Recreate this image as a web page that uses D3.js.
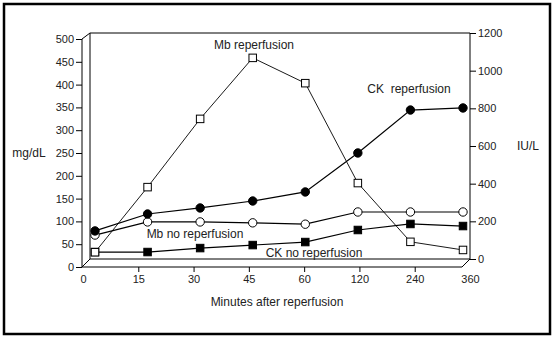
<!DOCTYPE html>
<html>
<head>
<meta charset="utf-8">
<script src="https://cdn.jsdelivr.net/npm/d3@7"></script>
<style>
  html, body { margin: 0; padding: 0; background: #fff; }
  text { font-family: "Liberation Sans", Arial, sans-serif; fill: #222; }
  .tick text { font-size: 11px; }
  .lbl { font-size: 12px; }
</style>
</head>
<body>
<div id="chart"></div>
<script>
// Mb (mg/dL, left axis) and CK (IU/L, right axis) after reperfusion
const minutes = ['0', '15', '30', '45', '60', '120', '240', '360'];
const mbReperfusion = [15, 159, 310, 445, 389, 168, 38, 20];
const mbNoReperfusion = [53, 82, 82, 80, 77, 104, 104, 104];
const ckReperfusion = [149, 239, 271, 308, 356, 563, 791, 802];
const ckNoReperfusion = [37, 37, 58, 74, 90, 154, 186, 175];
const mgTicks = [0, 50, 100, 150, 200, 250, 300, 350, 400, 450, 500];
const iuTicks = [0, 200, 400, 600, 800, 1000, 1200];

const width = 554, height = 344;

// front plane / back plane of the fake 3D frame
const front = { left: 82, right: 462, top: 39, bottom: 267 };
const back = { left: 90, right: 470, top: 33, bottom: 259 };

const svg = d3.select('#chart').append('svg')
  .attr('width', width)
  .attr('height', height)
  .style('display', 'block');

svg.append('rect')
  .attr('x', 4).attr('y', 4)
  .attr('width', 546).attr('height', 330)
  .attr('fill', 'none')
  .attr('stroke', '#000')
  .attr('stroke-width', 2.5);

const yFront = d3.scaleLinear().domain([0, 500]).range([front.bottom, front.top]);
const yMb = d3.scaleLinear().domain([0, 500]).range([back.bottom, back.top]);
const yCk = d3.scaleLinear().domain([0, 1200]).range([back.bottom, back.top]);
const xTick = d3.scalePoint().domain(minutes).range([83, 470]);
const xPt = d3.scalePoint().domain(minutes).range([95, 463]);

// frame
const frame = svg.append('g').attr('fill', 'none').attr('stroke', '#000').attr('stroke-width', 1);
frame.append('path').attr('d',
  `M${back.left},${back.bottom}V${back.top}H${back.right}V${back.bottom}H${back.left}`);
frame.append('path').attr('d',
  `M${front.left},${front.top}L${back.left},${back.top}` +
  `M${front.left},${front.bottom}L${back.left},${back.bottom}` +
  `M${front.left},${front.bottom}H${front.right}L${back.right},${back.bottom}`);

// left axis
const gl = svg.append('g')
  .attr('transform', `translate(${front.left},0)`)
  .call(d3.axisLeft(yFront).tickValues(mgTicks).tickSize(6).tickPadding(2));
gl.select('.domain').attr('d', `M0,${front.top}V${front.bottom}`);

// right axis
const gr = svg.append('g')
  .attr('transform', `translate(${back.right},0)`)
  .call(d3.axisRight(yCk).tickValues(iuTicks).tickFormat(d3.format('d')).tickSize(6).tickPadding(2));
gr.select('.domain').remove();

// bottom axis
const gb = svg.append('g')
  .attr('transform', `translate(0,${front.bottom})`)
  .call(d3.axisBottom(xTick).tickSize(5).tickPadding(3));
gb.select('.domain').remove();
gb.selectAll('.tick line').filter(d => d === '0' || d === '360').remove();

svg.selectAll('.tick text').attr('fill', '#222');

// series
const series = [
  { name: 'mbNo', values: mbNoReperfusion, y: yMb, shape: 'circle', fill: '#fff', lw: 1.2 },
  { name: 'ckNo', values: ckNoReperfusion, y: yCk, shape: 'square', fill: '#000', lw: 1.2 },
  { name: 'ckRep', values: ckReperfusion, y: yCk, shape: 'circle', fill: '#000', lw: 1.2 },
  { name: 'mbRep', values: mbReperfusion, y: yMb, shape: 'square', fill: '#fff', lw: 0.9 }
];

series.forEach(s => {
  const pts = s.values.map((v, i) => [xPt(minutes[i]), s.y(v)]);
  svg.append('path')
    .attr('d', d3.line()(pts))
    .attr('fill', 'none')
    .attr('stroke', '#000')
    .attr('stroke-width', s.lw);

  const g = svg.append('g');
  if (s.shape === 'circle') {
    g.selectAll('circle').data(pts).enter().append('circle')
      .attr('cx', d => d[0]).attr('cy', d => d[1]).attr('r', 4.2)
      .attr('fill', s.fill).attr('stroke', '#000').attr('stroke-width', 1);
  } else {
    g.selectAll('rect').data(pts).enter().append('rect')
      .attr('x', d => d[0] - 3.75).attr('y', d => d[1] - 3.75)
      .attr('width', 7.5).attr('height', 7.5)
      .attr('fill', s.fill).attr('stroke', '#000').attr('stroke-width', 1);
  }
});

// labels
const labels = [
  { t: 'Mb reperfusion', x: 254, y: 49 },
  { t: 'CK\u00a0 reperfusion', x: 409, y: 93 },
  { t: 'Mb no reperfusion', x: 195, y: 238 },
  { t: 'CK no reperfusion', x: 314, y: 257 },
  { t: 'mg/dL', x: 29, y: 157 },
  { t: 'IU/L', x: 528, y: 150 },
  { t: 'Minutes after reperfusion', x: 277, y: 306 }
];
svg.selectAll('.lbl').data(labels).enter().append('text')
  .attr('class', 'lbl')
  .attr('x', d => d.x)
  .attr('y', d => d.y)
  .attr('text-anchor', 'middle')
  .text(d => d.t);
</script>
</body>
</html>
